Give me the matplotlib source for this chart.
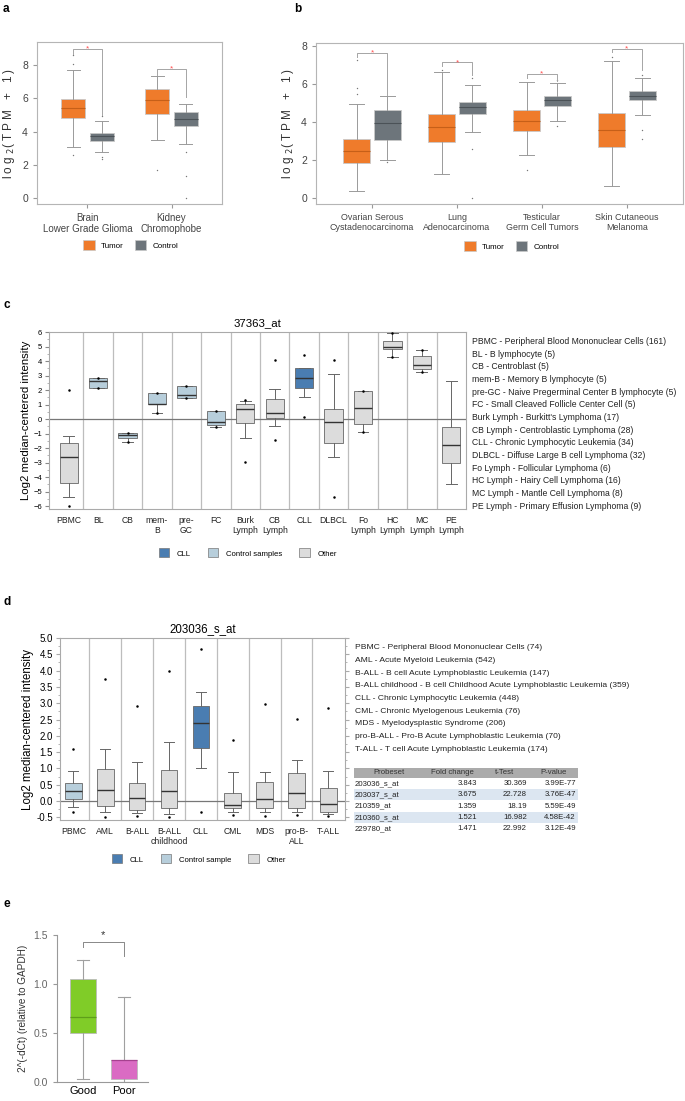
import matplotlib.pyplot as plt
from matplotlib.patches import Patch, Rectangle
from matplotlib.ticker import MultipleLocator

W, H = 685, 1101
plt.rcParams['font.family'] = ['Liberation Sans', 'DejaVu Sans']

# ---------------- data ----------------
# box stats are [whislo, q1, median, q3, whishi]
a_groups = ['Brain\nLower Grade Glioma', 'Kidney\nChromophobe']
a_tumor = [[3.09, 4.82, 5.40, 5.98, 7.69], [3.47, 5.08, 5.90, 6.55, 7.33]]
a_control = [[2.79, 3.43, 3.73, 3.93, 4.66], [3.25, 4.32, 4.76, 5.16, 5.68]]
a_tumor_out = [[8.6, 8.1, 2.6], [1.7]]
a_control_out = [[2.35, 2.5, 4.95], [2.75, 1.3, 0.0]]
a_brackets = [[9.0, 8.7, 5.0], [7.75, 7.4, 6.1]]   # top, left leg end, right leg end

b_groups = ['Ovarian Serous\nCystadenocarcinoma', 'Lung\nAdenocarcinoma',
            'Testicular\nGerm Cell Tumors', 'Skin Cutaneous\nMelanoma']
b_tumor = [[0.38, 1.87, 2.46, 3.09, 4.93], [1.26, 2.97, 3.72, 4.45, 6.65],
           [2.25, 3.53, 4.05, 4.66, 6.13], [0.64, 2.67, 3.58, 4.49, 7.23]]
b_control = [[2.01, 3.04, 3.93, 4.64, 5.38], [3.49, 4.42, 4.79, 5.05, 5.97],
             [4.07, 4.84, 5.19, 5.40, 6.04], [4.37, 5.15, 5.40, 5.66, 6.34]]
b_tumor_out = [[7.25, 5.8, 5.5], [6.75], [1.5], [7.4]]
b_control_out = [[1.9], [0.0, 2.6, 6.3], [3.8, 6.2], [3.1, 3.6, 6.5]]
b_brackets = [[7.65, 7.42, 5.41], [7.14, 6.97, 6.5], [6.53, 6.33, 6.16], [7.84, 7.68, 6.76]]

c_title = '37363_at'
c_groups = ['PBMC', 'BL', 'CB', 'mem-\nB', 'pre-\nGC', 'FC', 'Burk\nLymph', 'CB\nLymph',
            'CLL', 'DLBCL', 'Fo\nLymph', 'HC\nLymph', 'MC\nLymph', 'PE\nLymph']
c_kind = ['other', 'control', 'control', 'control', 'control', 'control', 'other', 'other',
          'cll', 'other', 'other', 'other', 'other', 'other']
c_stats = [[-5.34, -4.40, -2.59, -1.67, -1.15], [2.16, 2.16, 2.61, 2.87, 2.87],
           [-1.56, -1.31, -1.10, -0.94, -0.94], [0.46, 1.08, 1.08, 1.83, 1.83],
           [1.49, 1.49, 1.70, 2.32, 2.32], [-0.55, -0.37, -0.21, 0.57, 0.57],
           [-1.31, -0.25, 0.67, 1.08, 1.24], [-0.44, 0.05, 0.46, 1.40, 2.09],
           [1.56, 2.18, 2.87, 3.53, 3.53], [-2.59, -1.67, -0.18, 0.67, 3.10],
           [-0.89, -0.30, 0.78, 1.95, 1.95], [4.29, 4.82, 4.98, 5.39, 5.96],
           [3.23, 3.49, 3.74, 4.38, 4.79], [-4.47, -3.00, -1.81, -0.53, 2.61]]
c_out = [[2.0, -5.99], [2.87, 2.16], [-0.94, -1.56], [1.81, 0.46], [2.32, 1.49],
         [0.57, -0.55], [1.31, -2.94], [4.06, -1.44], [4.45, 0.18], [4.11, -5.34],
         [1.95, -0.89], [5.96, 4.29], [4.79, 3.23], []]
c_legend = ['CLL', 'Control samples', 'Other']
c_notes = ['PBMC - Peripheral Blood Mononuclear Cells (161)', 'BL - B lymphocyte (5)',
           'CB - Centroblast (5)', 'mem-B - Memory B lymphocyte (5)',
           'pre-GC - Naive Pregerminal Center B lymphocyte (5)',
           'FC - Small Cleaved Follicle Center Cell (5)', "Burk Lymph - Burkitt's Lymphoma (17)",
           'CB Lymph - Centroblastic Lymphoma (28)', 'CLL - Chronic Lymphocytic Leukemia (34)',
           'DLBCL - Diffuse Large B cell Lymphoma (32)', 'Fo Lymph - Follicular Lymphoma (6)',
           'HC Lymph - Hairy Cell Lymphoma (16)', 'MC Lymph - Mantle Cell Lymphoma (8)',
           'PE Lymph - Primary Effusion Lymphoma (9)']

d_title = '203036_s_at'
d_groups = ['PBMC', 'AML', 'B-ALL', 'B-ALL\nchildhood', 'CLL', 'CML', 'MDS', 'pro-B-\nALL', 'T-ALL']
d_kind = ['control', 'other', 'other', 'other', 'cll', 'other', 'other', 'other', 'other']
d_stats = [[-0.19, 0.05, 0.31, 0.56, 0.92], [-0.35, -0.15, 0.34, 0.99, 1.61],
           [-0.36, -0.27, 0.08, 0.56, 1.21], [-0.40, -0.20, 0.31, 0.95, 1.81],
           [1.02, 1.64, 2.38, 2.93, 3.35], [-0.35, -0.22, -0.13, 0.26, 0.90],
           [-0.35, -0.22, 0.05, 0.57, 0.90], [-0.35, -0.22, 0.25, 0.85, 1.27],
           [-0.40, -0.33, -0.10, 0.41, 0.92]]
d_out = [[1.61, -0.35], [3.75, -0.48], [2.91, -0.45], [4.0, -0.48], [4.65, -0.33],
         [1.86, -0.44], [2.99, -0.46], [2.51, -0.44], [2.86, -0.46]]
d_legend = ['CLL', 'Control sample', 'Other']
d_notes = ['PBMC - Peripheral Blood Mononuclear Cells (74)', 'AML - Acute Myeloid Leukemia (542)',
           'B-ALL - B cell Acute Lymphoblastic Leukemia (147)',
           'B-ALL childhood - B cell Childhood Acute Lymphoblastic Leukemia (359)',
           'CLL - Chronic Lymphocytic Leukemia (448)', 'CML - Chronic Myelogenous Leukemia (76)',
           'MDS - Myelodysplastic Syndrome (206)',
           'pro-B-ALL - Pro-B Acute Lymphoblastic Leukemia (70)',
           'T-ALL - T cell Acute Lymphoblastic Leukemia (174)']
tab_header = ['Probeset', 'Fold change', 't-Test', 'P-value']
tab_probeset = ['203036_s_at', '203037_s_at', '210359_at', '210360_s_at', '229780_at']
tab_fold = ['3.843', '3.675', '1.359', '1.521', '1.471']
tab_ttest = ['30.369', '22.728', '18.19', '16.982', '22.992']
tab_pval = ['3.99E-77', '3.76E-47', '5.59E-49', '4.58E-42', '3.12E-49']

e_groups = ['Good', 'Poor']
e_stats = [[0.034, 0.50, 0.668, 1.047, 1.24], [0.003, 0.027, 0.22, 0.225, 0.87]]
e_bracket = [1.425, 1.38, 1.29]

# ---------------- helpers ----------------
fig = plt.figure(figsize=(W / 100, H / 100), dpi=100)


def rect(l, t, r, b):
    return [l / W, 1 - b / H, (r - l) / W, (b - t) / H]


def fx(x):
    return x / W


def fy(y):
    return 1 - y / H


def mkstats(vals, out):
    return dict(whislo=vals[0], q1=vals[1], med=vals[2], q3=vals[3], whishi=vals[4], fliers=out)


ORANGE = '#EF7B2B'
GREY = '#6D757B'


def pair_panel(ax, groups, tumor, control, t_out, c_out_, brackets, off, wid, lab_fs):
    n = len(groups)
    pos = list(range(n))
    for stats, outs, sh, fc, mc in [(tumor, t_out, -off, ORANGE, '#C65F18'),
                                    (control, c_out_, off, GREY, '#4B5257')]:
        ax.bxp([mkstats(s, o) for s, o in zip(stats, outs)],
               positions=[p + sh for p in pos], widths=wid, patch_artist=True,
               boxprops=dict(facecolor=fc, edgecolor='#C9C9C9', lw=0.6),
               medianprops=dict(color=mc, lw=0.8),
               whiskerprops=dict(color='#9A9A9A', lw=0.7),
               capprops=dict(color='#9A9A9A', lw=0.7), capwidths=wid * 0.55,
               flierprops=dict(marker='o', ms=1.0, mfc='#777777', mec='none'))
    for p, (top, l_end, r_end) in zip(pos, brackets):
        ax.plot([p - off, p - off, p + off, p + off], [l_end, top, top, r_end],
                color='#A5A5A5', lw=0.7)
        ax.text(p, top, '*', color='#FF4D4D', fontsize=6, ha='center', va='center')
    ax.set_xticks(pos)
    ax.set_xticklabels(groups, fontsize=lab_fs, color='#333333', linespacing=1.15)
    for s in ax.spines.values():
        s.set_color('#B5B5B5')
    ax.tick_params(axis='both', length=3, color='#999999', labelsize=7.5, labelcolor='#444444')
    ax.tick_params(axis='x', labelsize=lab_fs)
    ax.set_yticks([0, 2, 4, 6, 8])
    ax.set_ylabel('l o g $_2$( T P M   +   1 )', fontsize=8.5, color='#333333', labelpad=4)


def pair_legend(cx, cy):
    handles = [Patch(facecolor=ORANGE, edgecolor='#C9C9C9', lw=0.5),
               Patch(facecolor=GREY, edgecolor='#C9C9C9', lw=0.5)]
    fig.legend(handles, ['Tumor', 'Control'], loc='center', bbox_to_anchor=(fx(cx), fy(cy)),
               ncol=2, frameon=False, fontsize=5.8, handlelength=1.4, handleheight=1.5,
               columnspacing=1.4, handletextpad=0.8)


KIND_COL = {'cll': '#4A7DB1', 'control': '#B7CEDB', 'other': '#DCDCDC'}


def expr_panel(ax, groups, kinds, stats, outs, wid):
    n = len(groups)
    for i, (s, o, k) in enumerate(zip(stats, outs, kinds)):
        ax.bxp([mkstats(s, o)], positions=[i], widths=wid, patch_artist=True,
               boxprops=dict(facecolor=KIND_COL[k], edgecolor='#666666', lw=0.6),
               medianprops=dict(color='#333333', lw=1.0),
               whiskerprops=dict(color='#666666', lw=0.7),
               capprops=dict(color='#666666', lw=0.7), capwidths=wid * 0.6,
               flierprops=dict(marker='o', ms=1.8, mfc='black', mec='none'), zorder=3)
    for i in range(n - 1):
        ax.axvline(i + 0.5, color='#BDBDBD', lw=0.9, zorder=1)
    ax.axhline(0, color='#777777', lw=0.9, zorder=2)
    ax.set_xticks(range(n))
    ax.set_xticklabels(groups, fontsize=6.2, color='#222222', linespacing=1.1)
    ax.tick_params(axis='x', length=0, pad=5)
    for s in ax.spines.values():
        s.set_color('#AAAAAA')


def expr_legend(cx, cy, labels):
    handles = [Patch(facecolor=KIND_COL[k], edgecolor='#777777', lw=0.5)
               for k in ['cll', 'control', 'other']]
    fig.legend(handles, labels, loc='center', bbox_to_anchor=(fx(cx), fy(cy)), ncol=3,
               frameon=False, fontsize=5.6, handlelength=1.3, handleheight=1.4,
               columnspacing=2.2, handletextpad=1.0)


# ---------------- panel a ----------------
ax_a = fig.add_axes(rect(37, 42, 222, 204))
pair_panel(ax_a, a_groups, a_tumor, a_control, a_tumor_out, a_control_out, a_brackets,
           0.17, 0.28, 7.0)
ax_a.set_xlim(-0.6, 1.6)
ax_a.set_ylim(-0.36, 9.4)
pair_legend(131, 245)

# ---------------- panel b ----------------
ax_b = fig.add_axes(rect(316, 43, 683, 204))
pair_panel(ax_b, b_groups, b_tumor, b_control, b_tumor_out, b_control_out, b_brackets,
           0.18, 0.32, 6.4)
ax_b.set_xlim(-0.66, 3.66)
ax_b.set_ylim(-0.3, 8.16)
pair_legend(512, 246)

# ---------------- panel c ----------------
ax_c = fig.add_axes(rect(49, 332, 466, 509))
expr_panel(ax_c, c_groups, c_kind, c_stats, c_out, 0.62)
ax_c.set_xlim(-0.67, 13.5)
ax_c.set_ylim(-6.19, 6.01)
ax_c.set_yticks(range(-6, 7))
ax_c.yaxis.set_minor_locator(MultipleLocator(0.5))
ax_c.tick_params(axis='y', which='major', length=3, labelsize=5.5, color='#888888', pad=2)
ax_c.tick_params(axis='y', which='minor', length=1.5, color='#AAAAAA')
ax_c.set_ylabel('Log2 median-centered intensity', fontsize=8.2, labelpad=2)
ax_c.set_title(c_title, fontsize=8.2, pad=4)
expr_legend(248, 553, c_legend)
for i, line in enumerate(c_notes):
    fig.text(fx(472), fy(341.7 + i * 12.64), line, fontsize=6.2, va='center', color='#222222')

# ---------------- panel d ----------------
ax_d = fig.add_axes(rect(60, 638, 345, 820))
expr_panel(ax_d, d_groups, d_kind, d_stats, d_out, 0.52)
ax_d.set_xlim(-0.42, 8.52)
ax_d.set_ylim(-0.58, 5.0)
ax_d.set_yticks([x / 2 for x in range(-1, 11)])
ax_d.set_yticklabels(['%.1f' % (x / 2) for x in range(-1, 11)])
ax_d.yaxis.set_minor_locator(MultipleLocator(0.25))
ax_d.tick_params(axis='y', which='both', right=True, color='#AAAAAA')
ax_d.tick_params(axis='y', which='major', length=3, labelsize=7, pad=2)
ax_d.tick_params(axis='y', which='minor', length=1.5)
ax_d.set_ylabel('Log2 median-centered intensity', fontsize=8.3, labelpad=2)
ax_d.set_title(d_title, fontsize=8.3, pad=4)
expr_legend(199, 859, d_legend)
for i, line in enumerate(d_notes):
    fig.text(fx(355), fy(647.7 + i * 12.7), line, fontsize=6.1, va='center', color='#222222')

# table
fig.add_artist(Rectangle((fx(354), fy(778)), (578 - 354) / W, 10 / H, transform=fig.transFigure,
                         facecolor='#ABABAB', edgecolor='none'))
head_x = [389, 452, 504, 554]
for hx, txt in zip(head_x, tab_header):
    fig.text(fx(hx), fy(773), txt, fontsize=5.6, ha='center', va='center', color='#333333')
for i in range(len(tab_probeset)):
    yc = 783.3 + i * 11.4
    if i % 2 == 1:
        fig.add_artist(Rectangle((fx(354), fy(yc + 5.6)), (578 - 354) / W, 11.2 / H,
                                 transform=fig.transFigure, facecolor='#DCE6F1', edgecolor='none'))
    fig.text(fx(355), fy(yc), tab_probeset[i], fontsize=5.6, va='center', color='#222222')
    fig.text(fx(477), fy(yc), tab_fold[i], fontsize=5.6, va='center', ha='right', color='#222222')
    fig.text(fx(527), fy(yc), tab_ttest[i], fontsize=5.6, va='center', ha='right', color='#222222')
    fig.text(fx(576), fy(yc), tab_pval[i], fontsize=5.6, va='center', ha='right', color='#222222')

# ---------------- panel e ----------------
ax_e = fig.add_axes(rect(57, 935, 148, 1082))
e_colors = ['#80CC28', '#DA6BC3']
e_med = ['#5E9E1A', '#A6418F']
for i, s in enumerate(e_stats):
    ax_e.bxp([mkstats(s, [])], positions=[i], widths=0.64, patch_artist=True,
             boxprops=dict(facecolor=e_colors[i], edgecolor='#BBBBBB', lw=0.6),
             medianprops=dict(color=e_med[i], lw=0.9),
             whiskerprops=dict(color='#A0A0A0', lw=0.8),
             capprops=dict(color='#A0A0A0', lw=0.8), capwidths=0.3)
top, l_end, r_end = e_bracket
ax_e.plot([0, 0, 1, 1], [l_end, top, top, r_end], color='#888888', lw=0.7, clip_on=False)
ax_e.text(0.5, top + 0.02, '*', fontsize=8, ha='center', va='bottom', color='#333333')
ax_e.set_xlim(-0.63, 1.59)
ax_e.set_ylim(0, 1.5)
ax_e.set_yticks([0, 0.5, 1.0, 1.5])
ax_e.set_yticklabels(['0.0', '0.5', '1.0', '1.5'])
ax_e.set_xticks([0, 1])
ax_e.set_xticklabels(e_groups, fontsize=8)
ax_e.spines['top'].set_visible(False)
ax_e.spines['right'].set_visible(False)
ax_e.spines['left'].set_color('#999999')
ax_e.spines['bottom'].set_color('#999999')
ax_e.tick_params(axis='y', length=3, color='#999999', labelsize=7.5, labelcolor='#666666')
ax_e.tick_params(axis='x', length=0, pad=3)
ax_e.set_ylabel('2^(-dCt) (relative to GAPDH)', fontsize=7.2, color='#333333', labelpad=4)

# panel letters
for letter, x, y in [('a', 3, 9), ('b', 294, 9), ('c', 3, 305), ('d', 3, 602), ('e', 3, 904)]:
    fig.text(fx(x), fy(y), letter, fontsize=8.5, fontweight='bold', va='center')

fig.savefig('out.png', dpi=100)
